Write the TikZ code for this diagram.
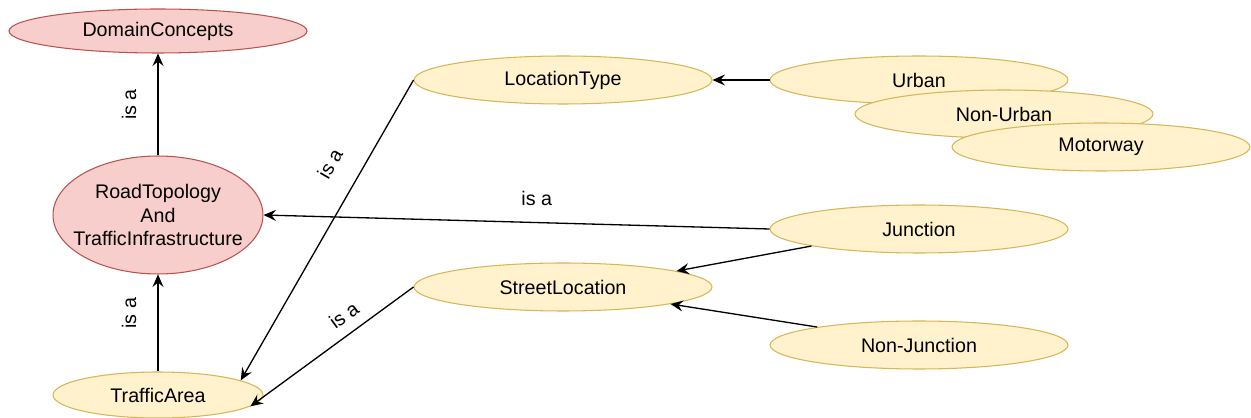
\documentclass[tikz,border=0pt]{standalone}
\usepackage{fontspec}
\setmainfont{Liberation Sans}
\usetikzlibrary{shapes.geometric,arrows.meta}

\definecolor{pinkfill}{HTML}{F8CECC}
\definecolor{pinkline}{HTML}{B85450}
\definecolor{yellowfill}{HTML}{FFF2CC}
\definecolor{yellowline}{HTML}{D6B656}

\begin{document}
\begin{tikzpicture}[x=0.02cm,y=-0.02cm,
	concept/.style={ellipse, draw, line width=0.6pt, inner sep=0pt, align=center,
		font=\fontsize{11.2}{13.6}\selectfont, minimum width=5.96cm, minimum height=0.96cm},
	pinkconcept/.style={concept, fill=pinkfill, draw=pinkline},
	yellowconcept/.style={concept, fill=yellowfill, draw=yellowline},
	isa/.style={-{Stealth[length=2.5mm,width=2.2mm,inset=0.9mm]}, line width=0.75pt},
	isalabel/.style={font=\fontsize{11.2}{13.6}\selectfont, inner sep=2pt}]
\useasboundingbox (0,0) rectangle (1251,418);

% upper hierarchy
\node[pinkconcept, minimum height=0.88cm] (domain) at (158,31) {DomainConcepts};
\node[pinkconcept, minimum width=4.2cm, minimum height=2.36cm, inner xsep=-0.26cm] (road) at (158,215)
	{RoadTopology\\And\\TrafficInfrastructure};
\node[yellowconcept, minimum width=4.2cm, minimum height=0.92cm] (traffic) at (158,395) {TrafficArea};

% location types
\node[yellowconcept] (loctype) at (563,80) {LocationType};
\node[yellowconcept] (urban) at (919,80) {Urban};
\node[yellowconcept] (nonurban) at (1004,114) {Non-Urban};
\node[yellowconcept] (motorway) at (1101,147) {Motorway};

% street locations
\node[yellowconcept] (junction) at (919,229) {Junction};
\node[yellowconcept] (street) at (563,287) {StreetLocation};
\node[yellowconcept] (nonjunction) at (919,345) {Non-Junction};

% is-a links
\draw[isa] (road) -- (domain) node[isalabel, midway, above=10pt, sloped] {is a};
\draw[isa] (traffic) -- (road) node[isalabel, pos=0.6, above=10pt, sloped] {is a};
\draw[isa] (junction.west) -- (road.east) node[isalabel, pos=0.46, above=7pt] {is a};
\draw[isa] (loctype.west) -- (traffic.10) node[isalabel, pos=0.33, above=11pt, sloped] {is a};
\draw[isa] (street.west) -- (traffic.-7) node[isalabel, pos=0.36, above=4pt, sloped] {is a};

% plain links
\draw[isa] (urban.west) -- (loctype.east);
\draw[isa] (junction.189) -- (street.8.6);
\draw[isa] (nonjunction.170) -- (street.-9.5);

\end{tikzpicture}
\end{document}
